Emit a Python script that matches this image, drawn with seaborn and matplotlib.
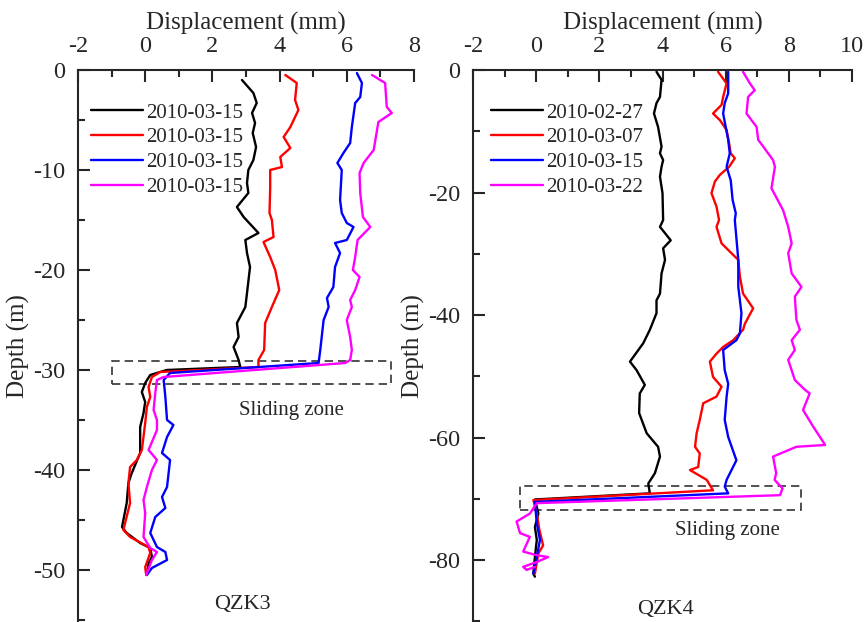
import pandas as pd
import numpy as np
import matplotlib
matplotlib.use("Agg")
import matplotlib.pyplot as plt
from matplotlib.patches import Rectangle
import seaborn as sns

# data: (depth m, displacement mm)
qzk3_labels = ["2010-03-15", "2010-03-15", "2010-03-15", "2010-03-15"]
qzk4_labels = ["2010-02-27", "2010-03-07", "2010-03-15", "2010-03-22"]

qzk3_black = [(-1.0, 2.88), (-2.3, 3.22), (-3.3, 3.32), (-4.3, 3.18), (-5.3, 3.27), (-6.3, 3.20),
              (-7.7, 3.30), (-9.0, 3.22), (-10.0, 3.07), (-11.3, 3.03), (-12.3, 3.07), (-13.7, 2.73),
              (-14.7, 2.93), (-16.3, 3.37), (-17.0, 2.98), (-18.3, 3.03), (-19.7, 3.12), (-22.3, 3.03),
              (-23.7, 2.98), (-25.3, 2.73), (-26.7, 2.78), (-27.7, 2.63), (-28.3, 2.70), (-29.0, 2.78),
              (-29.7, 2.83), (-30.0, 0.64), (-30.5, 0.15), (-31.3, 0.0), (-32.2, -0.10), (-33.2, 0.0),
              (-34.3, -0.05), (-35.7, -0.15), (-37.7, -0.15), (-38.3, -0.15), (-40.3, -0.40),
              (-41.3, -0.50), (-43.3, -0.55), (-45.7, -0.69), (-46.3, -0.55), (-47.3, -0.15),
              (-47.8, 0.15), (-48.7, 0.20), (-49.3, 0.10), (-50.5, 0.05)]
qzk3_red = [(-0.5, 4.17), (-1.3, 4.51), (-3.0, 4.46), (-4.0, 4.56), (-5.7, 4.32), (-6.7, 4.12),
            (-7.8, 4.32), (-8.7, 4.02), (-9.7, 4.07), (-10.0, 3.72), (-11.7, 3.72), (-14.3, 3.70),
            (-15.0, 3.77), (-16.7, 3.82), (-17.2, 3.52), (-18.7, 3.72), (-20.0, 3.87), (-22.0, 3.99),
            (-23.7, 3.77), (-25.3, 3.57), (-28.0, 3.54), (-29.0, 3.37), (-29.7, 3.37), (-30.2, 0.45),
            (-30.7, 0.20), (-31.7, 0.10), (-32.7, 0.15), (-33.7, 0.05), (-35.3, 0.0), (-38.0, -0.10),
            (-39.0, -0.25), (-39.7, -0.45), (-41.3, -0.50), (-43.3, -0.45), (-46.0, -0.65),
            (-46.7, -0.45), (-47.7, 0.10), (-48.3, 0.15), (-49.7, 0.0), (-50.5, 0.03)]
qzk3_blue = [(-0.3, 6.30), (-1.3, 6.45), (-2.7, 6.40), (-3.3, 6.25), (-5.7, 6.15), (-7.3, 6.10),
             (-8.3, 5.90), (-9.3, 5.72), (-10.0, 5.85), (-13.0, 5.80), (-14.3, 5.85), (-15.3, 6.00),
             (-15.7, 6.20), (-17.0, 6.00), (-17.3, 5.65), (-18.3, 5.80), (-19.7, 5.65), (-21.7, 5.60),
             (-22.8, 5.41), (-23.7, 5.46), (-25.0, 5.31), (-28.0, 5.21), (-29.3, 5.16), (-30.3, 0.74),
             (-31.0, 0.55), (-32.7, 0.60), (-35.0, 0.65), (-35.5, 0.84), (-36.7, 0.65), (-38.3, 0.50),
             (-39.0, 0.74), (-41.7, 0.65), (-42.7, 0.50), (-43.8, 0.60), (-44.7, 0.30), (-46.3, 0.15),
             (-47.7, 0.35), (-48.2, 0.60), (-49.0, 0.65), (-49.8, 0.20), (-50.5, 0.05)]
qzk3_magenta = [(-0.5, 6.75), (-1.3, 7.14), (-3.7, 7.19), (-4.3, 7.34), (-5.2, 6.94), (-8.0, 6.80),
                (-9.3, 6.50), (-10.3, 6.38), (-12.3, 6.40), (-14.7, 6.48), (-15.7, 6.70), (-17.0, 6.32),
                (-18.7, 6.25), (-20.0, 6.18), (-20.7, 6.38), (-22.0, 6.25), (-23.0, 6.10), (-23.7, 6.15),
                (-25.0, 6.00), (-26.7, 6.10), (-28.0, 6.15), (-29.0, 6.10), (-29.3, 5.95), (-30.7, 0.55),
                (-31.0, 0.35), (-32.3, 0.30), (-34.0, 0.25), (-35.0, 0.35), (-36.0, 0.35), (-38.0, 0.10),
                (-39.0, 0.35), (-40.0, 0.20), (-41.7, 0.05), (-43.0, -0.05), (-44.3, 0.0), (-46.7, -0.05),
                (-47.8, 0.15), (-48.2, 0.35), (-49.0, 0.20), (-50.5, 0.03)]

qzk4_black = [(-0.3, 3.81), (-1.6, 3.97), (-4.4, 3.92), (-5.4, 3.81), (-7.1, 3.73), (-9.3, 3.86),
              (-12.5, 3.97), (-13.6, 3.92), (-14.7, 4.02), (-15.8, 3.97), (-17.4, 3.92), (-20.1, 4.00),
              (-24.5, 4.02), (-25.6, 3.92), (-27.8, 4.26), (-29.1, 4.02), (-31.0, 4.08), (-33.2, 3.97),
              (-36.5, 3.92), (-37.6, 3.81), (-39.7, 3.81), (-42.4, 3.60), (-44.6, 3.39), (-47.6, 2.97),
              (-49.0, 3.18), (-51.4, 3.44), (-52.8, 3.28), (-56.0, 3.26), (-59.3, 3.50), (-61.5, 3.86),
              (-63.1, 3.92), (-65.8, 3.76), (-67.5, 3.55), (-69.1, 3.60), (-70.1, -0.04), (-72.4, 0.07),
              (-74.6, -0.04), (-76.7, 0.02), (-79.5, -0.04), (-82.2, -0.09), (-82.7, -0.04)]
qzk4_red = [(-0.3, 5.76), (-2.2, 6.03), (-4.4, 5.92), (-5.7, 5.87), (-7.1, 5.60), (-8.2, 5.82),
            (-9.8, 6.03), (-12.0, 6.11), (-13.6, 6.16), (-14.4, 6.29), (-15.8, 6.11), (-17.1, 5.82),
            (-18.2, 5.66), (-20.1, 5.55), (-22.3, 5.71), (-24.5, 5.79), (-25.6, 5.71), (-28.3, 5.87),
            (-31.0, 6.40), (-33.7, 6.45), (-36.5, 6.55), (-38.9, 6.87), (-41.4, 6.61), (-42.4, 6.55),
            (-44.1, 6.24), (-45.2, 5.92), (-46.3, 5.71), (-47.6, 5.50), (-50.1, 5.60), (-51.7, 5.87),
            (-53.3, 5.71), (-54.4, 5.29), (-57.1, 5.18), (-59.3, 5.08), (-61.5, 5.03), (-62.6, 5.18),
            (-64.8, 5.13), (-65.3, 4.87), (-66.9, 5.40), (-68.6, 5.60), (-70.2, -0.09), (-72.4, 0.02),
            (-75.0, 0.10), (-77.6, 0.22), (-78.9, 0.07), (-82.2, -0.04)]
qzk4_blue = [(-0.3, 6.08), (-3.8, 6.08), (-5.4, 5.97), (-7.1, 5.92), (-11.4, 6.08), (-13.6, 6.13),
             (-15.8, 6.03), (-18.0, 6.16), (-21.2, 6.22), (-23.4, 6.32), (-24.5, 6.29), (-31.0, 6.40),
             (-35.4, 6.40), (-39.7, 6.50), (-43.0, 6.45), (-44.1, 6.34), (-45.7, 5.92), (-49.0, 5.97),
             (-51.2, 6.08), (-53.3, 6.03), (-57.1, 5.97), (-59.9, 6.08), (-63.7, 6.34), (-66.9, 6.03),
             (-68.0, 5.97), (-69.1, 6.08), (-70.5, -0.04), (-74.0, 0.02), (-76.7, 0.12), (-79.5, 0.02),
             (-82.2, -0.09)]
qzk4_magenta = [(-0.3, 6.55), (-2.2, 6.77), (-3.3, 6.92), (-4.4, 6.71), (-7.1, 6.66), (-9.3, 6.98),
                (-11.4, 7.03), (-12.5, 7.19), (-14.7, 7.50), (-15.8, 7.56), (-19.3, 7.45), (-22.9, 7.82),
                (-25.6, 7.98), (-28.3, 8.09), (-29.9, 7.98), (-33.2, 8.09), (-35.4, 8.40), (-37.0, 8.19),
                (-40.8, 8.24), (-42.4, 8.35), (-44.1, 8.09), (-45.7, 8.19), (-47.3, 7.98), (-50.6, 8.19),
                (-52.2, 8.51), (-52.8, 8.66), (-55.5, 8.45), (-58.2, 8.77), (-61.2, 9.15), (-61.5, 8.24),
                (-63.1, 7.50), (-65.8, 7.60), (-66.9, 7.55), (-68.3, 7.80), (-69.4, 7.72), (-70.7, 0.02),
                (-72.4, -0.20), (-73.7, -0.62), (-75.6, -0.51), (-76.2, -0.20), (-78.6, -0.41),
                (-79.2, 0.02), (-79.5, 0.38), (-80.3, 0.02), (-81.1, -0.41), (-81.6, -0.30), (-81.1, -0.04)]

# sliding zone boxes: (x0, depth_top, x1, depth_bottom)
zone3 = (-1.0, -29.1, 7.32, -31.4)
zone4 = (-0.5, -67.9, 8.38, -71.8)

colors = ["#000000", "#ff0000", "#0000ff", "#ff00ff"]

sns.set_style("ticks")
plt.rcParams["font.family"] = ["Liberation Serif", "DejaVu Serif"]
plt.rcParams["axes.linewidth"] = 1.5
plt.rcParams["axes.unicode_minus"] = False

fig = plt.figure(figsize=(8.64, 6.22), dpi=100)
ax1 = fig.add_axes([78 / 864, 0, 336 / 864, 552 / 622])
ax2 = fig.add_axes([473 / 864, 0, 379 / 864, 552 / 622])


def draw_panel(ax, series, labels, xlim, ylim, ymaj, zone, name, name_xy, zone_xy, leg_xy):
    for pts, lab, c in zip(series, labels, colors):
        df = pd.DataFrame(pts, columns=["depth", "disp"])
        sns.lineplot(data=df, x="disp", y="depth", sort=False, estimator=None,
                     color=c, lw=1.7, label=lab, ax=ax)
    ax.set_xlim(*xlim)
    ax.set_ylim(*ylim)
    ax.xaxis.tick_top()
    ax.xaxis.set_label_position("top")
    ax.set_xticks(np.arange(xlim[0], xlim[1] + 0.1, 2))
    ax.set_xticks(np.arange(xlim[0] + 1, xlim[1], 2), minor=True)
    ax.set_yticks(np.arange(0, ylim[0], -ymaj))
    ax.set_yticks(np.arange(-ymaj / 2, ylim[0], -ymaj), minor=True)
    ax.set_xlabel("Displacement (mm)", fontsize=18, labelpad=5)
    ax.set_ylabel("Depth (m)", fontsize=18, labelpad=2)
    ax.tick_params(which="major", direction="in", length=8.5, width=1.5, labelsize=17.5, pad=9)
    ax.tick_params(which="minor", direction="in", length=5, width=1.5)
    ax.tick_params(axis="x", which="both", top=True, bottom=False)
    ax.spines["right"].set_visible(False)
    ax.spines["bottom"].set_visible(False)
    x0, d0, x1, d1 = zone
    ax.add_patch(Rectangle((x0, d1), x1 - x0, d0 - d1, fill=False, ec="#333333",
                           lw=1.2, ls=(0, (5, 3)), clip_on=False))
    ax.text(zone_xy[0], zone_xy[1], "Sliding zone", fontsize=15, ha="center", va="center")
    ax.text(name_xy[0], name_xy[1], name, fontsize=16, ha="center", va="center")
    ax.legend(loc="upper left", bbox_to_anchor=leg_xy, frameon=False, fontsize=15,
              handlelength=2.5, handletextpad=0.15, labelspacing=0.25,
              borderpad=0, borderaxespad=0)
    ax.grid(False)


draw_panel(ax1, [qzk3_black, qzk3_red, qzk3_blue, qzk3_magenta], qzk3_labels,
           (-2, 8), (-55.2, 0), 10, zone3, "QZK3", (2.9, -53.5), (4.34, -34.0), (0.039, 0.94))
draw_panel(ax2, [qzk4_black, qzk4_red, qzk4_blue, qzk4_magenta], qzk4_labels,
           (-2, 10), (-90.1, 0), 20, zone4, "QZK4", (4.1, -88.0), (6.07, -75.1), (0.0475, 0.94))

fig.savefig("out.png", dpi=100)
